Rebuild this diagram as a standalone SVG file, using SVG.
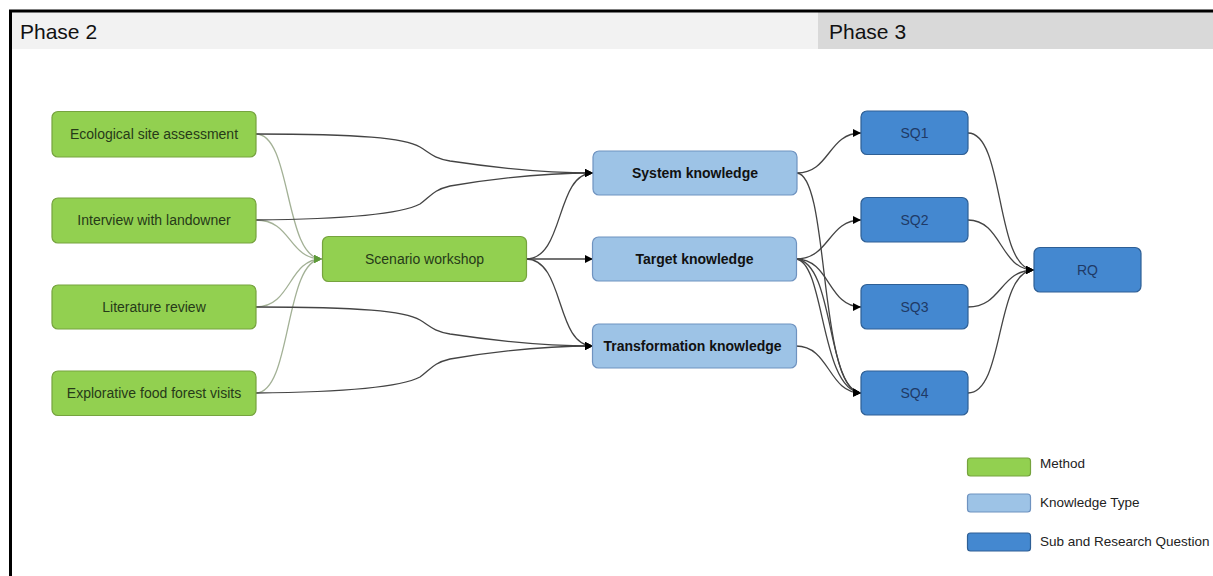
<svg xmlns="http://www.w3.org/2000/svg" width="1213" height="576" viewBox="0 0 1213 576">
<defs>
<style>
.method rect{fill:#92d050;stroke:#76a33e;stroke-width:1.2}
.method text{fill:#263a18}
.know rect{fill:#9dc3e6;stroke:#6f93c0;stroke-width:1.2}
.know text{fill:#111;font-weight:bold}
.sq rect{fill:#4488d0;stroke:#2e5f95;stroke-width:1.2}
.sq text{fill:#1f3a66}
text{font-family:"Liberation Sans",Arial,sans-serif;font-size:14px}
.lbl{text-anchor:middle}
.phase{font-size:21px;fill:#111}
.leg{font-size:13.5px;fill:#222}
.e{fill:none;stroke:#444;stroke-width:1.3;marker-end:url(#ab)}
.g{fill:none;stroke:#a3b196;stroke-width:1.3;marker-end:url(#ag)}
</style>
<marker id="ab" viewBox="0 0 10 10" refX="10" refY="5" markerWidth="8" markerHeight="8" markerUnits="userSpaceOnUse" orient="auto"><path d="M0,0 L10,5 L0,10 z" fill="#000"/></marker>
<marker id="ag" viewBox="0 0 10 10" refX="10" refY="5" markerWidth="8" markerHeight="8" markerUnits="userSpaceOnUse" orient="auto"><path d="M0,0 L10,5 L0,10 z" fill="#5e9a3a"/></marker>
</defs>
<rect x="0" y="0" width="1213" height="576" fill="#fff"/>
<g id="frame">
<rect x="11" y="12" width="807" height="37" fill="#f2f2f2"/>
<rect x="818" y="12" width="395" height="37" fill="#d9d9d9"/>
<line x1="9" y1="11" x2="1213" y2="11" stroke="#000" stroke-width="3"/>
<line x1="10.5" y1="10" x2="10.5" y2="576" stroke="#000" stroke-width="3"/>
<text class="phase" x="20" y="39">Phase 2</text>
<text class="phase" x="829" y="39">Phase 3</text>
</g>
<g id="connectors">
<path class="g" d="M256,134 C292,134 284,259 322,259"/>
<path class="g" d="M256,220 C292,220 288,259 322,259"/>
<path class="g" d="M256,307 C292,307 288,259 322,259"/>
<path class="g" d="M256,393 C292,393 284,259 322,259"/>
<path class="e" d="M256,134 C360,134 405,138 420,147 C430,153 433,158 450,161 C510,170 560,173 593,173"/>
<path class="e" d="M256,220 C360,219 405,212 420,204 C430,197 433,190 450,186 C510,176 560,173 593,173"/>
<path class="e" d="M256,307 C360,307 405,311 420,320 C430,326 433,331 450,334 C510,343 560,346 593,346"/>
<path class="e" d="M256,393 C360,392 405,385 420,377 C430,370 433,363 450,359 C510,349 560,346 593,346"/>
<path class="e" d="M526,259 C565,259 555,173 593,173"/>
<path class="e" d="M526,259 L593,259"/>
<path class="e" d="M526,259 C565,259 555,346 593,346"/>
<path class="e" d="M797,173 C830,173 828,133 861,133"/>
<path class="e" d="M797,173 C830,176 818,390 861,393"/>
<path class="e" d="M796,259 C830,259 828,220 861,220"/>
<path class="e" d="M796,259 C830,259 828,307 861,307"/>
<path class="e" d="M796,259 C825,262 820,390 861,393"/>
<path class="e" d="M796,259 C835,262 826,390 861,393"/>
<path class="e" d="M796,346 C830,346 828,393 861,393"/>
<path class="e" d="M968,133 C1005,133 995,270 1034,270"/>
<path class="e" d="M968,220 C1002,220 1000,270 1034,270"/>
<path class="e" d="M968,307 C1002,307 1000,270 1034,270"/>
<path class="e" d="M968,393 C1005,393 995,270 1034,270"/>
</g>
<g id="n-ecological" class="method"><rect x="52" y="111.5" width="204" height="45.5" rx="6"/><text class="lbl" x="154" y="139">Ecological site assessment</text></g>
<g id="n-interview" class="method"><rect x="52" y="198" width="204" height="45" rx="6"/><text class="lbl" x="154" y="225">Interview with landowner</text></g>
<g id="n-literature" class="method"><rect x="52" y="285" width="204" height="44" rx="6"/><text class="lbl" x="154" y="312">Literature review</text></g>
<g id="n-explorative" class="method"><rect x="52" y="371" width="204" height="44.5" rx="6"/><text class="lbl" x="154" y="398">Explorative food forest visits</text></g>
<g id="n-scenario" class="method"><rect x="322.5" y="236.5" width="204" height="45" rx="6"/><text class="lbl" x="424.5" y="264">Scenario workshop</text></g>
<g id="n-system" class="know"><rect x="593" y="151" width="204" height="44" rx="6"/><text class="lbl" x="695" y="178">System knowledge</text></g>
<g id="n-target" class="know"><rect x="592.5" y="237" width="204" height="44" rx="6"/><text class="lbl" x="694.5" y="264">Target knowledge</text></g>
<g id="n-transformation" class="know"><rect x="592.5" y="324" width="204" height="44" rx="6"/><text class="lbl" x="692.5" y="351">Transformation knowledge</text></g>
<g id="n-sq1" class="sq"><rect x="861" y="111" width="107" height="43.5" rx="6"/><text class="lbl" x="914.5" y="138">SQ1</text></g>
<g id="n-sq2" class="sq"><rect x="861" y="197.5" width="107" height="44.5" rx="6"/><text class="lbl" x="914.5" y="225">SQ2</text></g>
<g id="n-sq3" class="sq"><rect x="861" y="284.5" width="107" height="44.5" rx="6"/><text class="lbl" x="914.5" y="312">SQ3</text></g>
<g id="n-sq4" class="sq"><rect x="861" y="371" width="107" height="44" rx="6"/><text class="lbl" x="914.5" y="398">SQ4</text></g>
<g id="n-rq" class="sq"><rect x="1034" y="247.5" width="107" height="44.5" rx="6"/><text class="lbl" x="1087.5" y="275">RQ</text></g>
<g id="legend">
<g class="method"><rect x="967.5" y="458" width="63" height="18" rx="3"/></g>
<g class="know"><rect x="967.5" y="494" width="63" height="18" rx="3"/></g>
<g class="sq"><rect x="967.5" y="533" width="63" height="18" rx="3"/></g>
<text class="leg" x="1040" y="468">Method</text>
<text class="leg" x="1040" y="507">Knowledge Type</text>
<text class="leg" x="1040" y="546">Sub and Research Question</text>
</g>
</svg>
